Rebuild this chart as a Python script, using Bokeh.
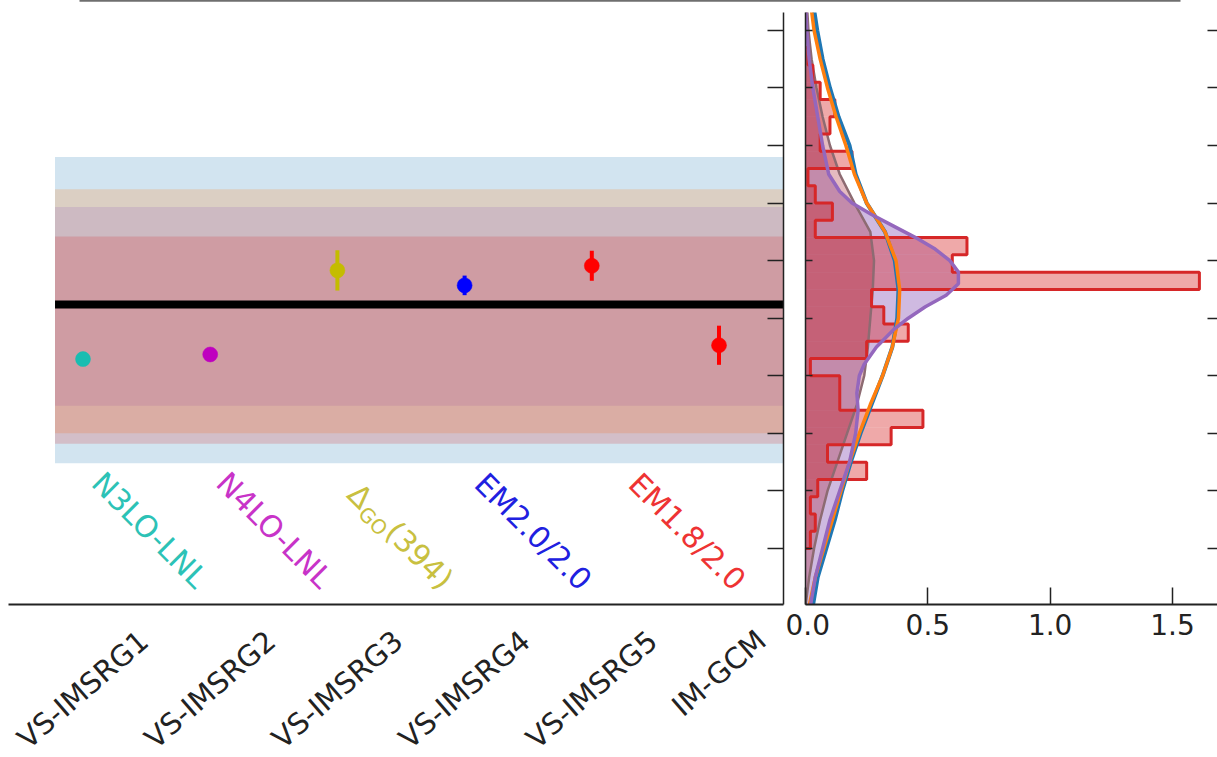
import math
from bokeh.plotting import figure
from bokeh.layouts import column, row
from bokeh.models import (Range1d, FixedTicker, LinearAxis, CustomJSTickFormatter,
                          PrintfTickFormatter)
from bokeh.core.properties import value
from bokeh.embed import file_html
from bokeh.resources import INLINE

FONT = "DejaVu Sans"

# ---------------- data ----------------
methods = ["VS-IMSRG1", "VS-IMSRG2", "VS-IMSRG3", "VS-IMSRG4", "VS-IMSRG5", "IM-GCM"]
method_values = [3.29, 3.37, 4.83, 4.57, 4.91, 3.53]
method_errors = [0.05, 0.05, 0.35, 0.17, 0.26, 0.34]
method_colors = ["#19bdb1", "#bf00bf", "#c4bc00", "#0000ff", "#ff0000", "#ff0000"]

interactions = ["N3LO-LNL", "N4LO-LNL", "ΔGO(394)", "EM2.0/2.0", "EM1.8/2.0"]
interaction_colors = ["#2cc2b6", "#c833c8", "#c8c040", "#2020e0", "#ee3333"]
interaction_x = [0.21, 1.19, 2.22, 3.22, 4.43]
interaction_y = [1.445, 1.445, 1.25, 1.43, 1.43]

reference_value = 4.24

band_low = [1.48, 2.00, 2.48, 1.82]
band_high = [6.80, 6.24, 5.93, 5.42]
band_colors = ["#1f77b4", "#ff7f0e", "#9467bd", "#d62728"]
band_x = [-0.22, 5.51]

y_ticks = [0, 1, 2, 3, 4, 5, 6, 7, 8, 9]

# right panel: histogram (horizontal) and density curves
hist_edges = [0.0, 0.3, 0.6, 0.9, 1.2, 1.5, 1.8, 2.1, 2.4, 2.7, 3.0, 3.3, 3.6, 3.9,
              4.2, 4.5, 4.8, 5.1, 5.4, 5.7, 6.0, 6.3, 6.6, 6.9, 7.2, 7.5, 7.8, 8.1,
              8.4, 8.7]
hist_density = [0.02, 0.04, 0.02, 0.05, 0.25, 0.09, 0.35, 0.48, 0.14, 0.14, 0.02,
                0.25, 0.42, 0.32, 0.27, 1.61, 0.60, 0.66, 0.04, 0.11, 0.04, 0.01,
                0.19, 0.06, 0.10, 0.12, 0.06, 0.03, 0.01]

kde_y = [-1.0, -0.5, 0.0, 0.5, 1.0, 1.5, 2.0, 2.5, 3.0, 3.5, 4.0, 4.5, 5.0, 5.5,
         6.0, 6.5, 7.0, 7.5, 8.0, 8.5, 9.0, 9.5]
kde_blue = [0.03, 0.05, 0.085, 0.12, 0.15, 0.185, 0.225, 0.27, 0.315, 0.355, 0.375,
            0.38, 0.365, 0.325, 0.25, 0.205, 0.18, 0.135, 0.10, 0.07, 0.048, 0.03]
kde_orange = [0.015, 0.04, 0.075, 0.11, 0.145, 0.18, 0.22, 0.265, 0.315, 0.355, 0.38,
              0.385, 0.37, 0.325, 0.25, 0.20, 0.165, 0.125, 0.09, 0.06, 0.035, 0.02]
kde_red = [0.0, 0.015, 0.035, 0.06, 0.09, 0.13, 0.17, 0.21, 0.24, 0.255, 0.265, 0.275,
           0.28, 0.265, 0.20, 0.14, 0.10, 0.07, 0.045, 0.025, 0.012, 0.005]

purple_y = [-1.0, -0.5, 0.0, 0.5, 1.0, 1.5, 2.0, 2.4, 2.7, 3.0, 3.2, 3.5, 3.8, 4.0,
            4.2, 4.4, 4.6, 4.8, 5.0, 5.2, 5.4, 5.6, 5.8, 6.0, 6.2, 6.5, 7.0, 7.5,
            8.0, 8.5, 9.0, 9.5]
kde_purple = [0.02, 0.04, 0.07, 0.10, 0.14, 0.18, 0.205, 0.215, 0.21, 0.22, 0.24,
              0.29, 0.36, 0.42, 0.49, 0.575, 0.625, 0.625, 0.59, 0.53, 0.45, 0.36,
              0.27, 0.19, 0.14, 0.095, 0.07, 0.05, 0.03, 0.015, 0.005, 0.0]

x_ticks_right = [0.0, 0.5, 1.0, 1.5]

# ---------------- styling / layout ----------------
AX = "#222222"
TXT = "#222222"
W, H_PAGE = 1217, 757
TOP = 12            # height of the strip above the panels
FRAME_H = 592       # panel frame height
y_range = Range1d(-0.973, 9.31)
x_range_left = Range1d(-0.5857, 5.507)

# approximate DejaVu Sans advance widths (em) used to centre rotated labels
CHAR_W = {"V": 0.684, "S": 0.635, "-": 0.361, "I": 0.295, "M": 0.863, "R": 0.695,
          "G": 0.775, "C": 0.698}
DIGIT_W = 0.636


def hidden_label_axis(ticker, tick_in, line_color, line_width=1.5):
    ax = LinearAxis(ticker=ticker, formatter=CustomJSTickFormatter(code="return ''"))
    ax.major_tick_in = tick_in
    ax.major_tick_out = 0
    ax.minor_tick_line_color = None
    ax.major_tick_line_color = AX if tick_in > 0 else None
    ax.major_tick_line_width = 1.5
    ax.axis_line_color = line_color
    ax.axis_line_width = line_width
    ax.major_label_standoff = 0
    ax.major_label_text_font_size = "1px"
    return ax


def bare(fig):
    fig.outline_line_color = None
    fig.grid.visible = False
    return fig


# strip holding the lower spine of a (cropped) panel above
strip = bare(figure(width=W, height=TOP, x_range=Range1d(0, 1), y_range=Range1d(0, 1),
                    output_backend="svg", toolbar_location=None,
                    x_axis_location=None, y_axis_location=None,
                    min_border_left=79, min_border_right=37,
                    min_border_top=0, min_border_bottom=0))
strip.add_layout(hidden_label_axis(FixedTicker(ticks=[]), 0, "#6f6f6f", 2.5), "above")

# ---- left panel ----
P1_H = FRAME_H + 4
p1 = bare(figure(width=785, height=P1_H, x_range=x_range_left, y_range=y_range,
                 output_backend="svg", toolbar_location=None,
                 x_axis_location=None, y_axis_location=None,
                 min_border_left=8, min_border_right=2, min_border_top=0, min_border_bottom=4))

for lo, hi, c in zip(band_low, band_high, band_colors):
    p1.quad(left=band_x[0], right=band_x[1], bottom=lo, top=hi,
            fill_color=c, fill_alpha=0.2, line_color=None)

p1.line(x=band_x, y=[reference_value, reference_value], line_color="black", line_width=8)

idx = list(range(len(methods)))
p1.segment(x0=idx, y0=[v - e for v, e in zip(method_values, method_errors)],
           x1=idx, y1=[v + e for v, e in zip(method_values, method_errors)],
           line_color=method_colors, line_width=4)
p1.scatter(x=idx, y=method_values, size=15, fill_color=method_colors,
           line_color=method_colors, line_width=0.5)

ang = -math.radians(45)
for name, c, xx, yy in zip(interactions, interaction_colors, interaction_x, interaction_y):
    common = dict(text_color=c, angle=ang, text_font=value(FONT),
                  text_align="left", text_baseline="top")
    if name.startswith("Δ"):
        head, sub, tail = name[0], name[1:3], name[3:]
        p1.text(x=[xx], y=[yy], text=[head], text_font_size="30px", **common)
        p1.text(x=[xx], y=[yy], text=[sub], text_font_size="20px",
                x_offset=5, y_offset=25, **common)
        p1.text(x=[xx], y=[yy], text=[tail], text_font_size="30px",
                x_offset=38, y_offset=38, **common)
    else:
        p1.text(x=[xx], y=[yy], text=[name], text_font_size="30px", **common)

# bottom spine (no tick marks) and right spine with inward ticks
p1.add_layout(hidden_label_axis(FixedTicker(ticks=idx), 0, AX, 2), "below")
p1.add_layout(hidden_label_axis(FixedTicker(ticks=y_ticks), 16, AX), "right")

# ---- rotated category labels under the left panel (y = pixels below the spine) ----
LAB_H = H_PAGE - TOP - P1_H
p1lab = bare(figure(width=785, height=LAB_H, x_range=x_range_left,
                    y_range=Range1d(LAB_H + 4, 4),
                    output_backend="svg", toolbar_location=None,
                    x_axis_location=None, y_axis_location=None,
                    min_border_left=8, min_border_right=2,
                    min_border_top=0, min_border_bottom=0))
LAB_FS = 29
lab_ang = math.radians(41)
lab_y = []
for name in methods:
    L = LAB_FS * sum(CHAR_W.get(ch, DIGIT_W) for ch in name)
    Hb = L * math.sin(lab_ang) + LAB_FS * math.cos(lab_ang)
    lab_y.append(21 + Hb / 2)
p1lab.text(x=idx, y=lab_y, text=methods, angle=lab_ang, text_font=value(FONT),
           text_font_size=f"{LAB_FS}px", text_color=TXT,
           text_align="center", text_baseline="middle")

# ---- right panel ----
p2 = bare(figure(width=W - 785, height=H_PAGE - TOP, x_range=Range1d(0, 1.684),
                 y_range=y_range, output_backend="svg", toolbar_location=None,
                 x_axis_location=None, y_axis_location=None,
                 min_border_left=20, min_border_right=0, min_border_top=0,
                 min_border_bottom=H_PAGE - TOP - FRAME_H))

p2.harea(x1=0, x2=kde_purple, y=purple_y, fill_color="#9467bd", fill_alpha=0.45)
p2.quad(left=0, right=hist_density, bottom=hist_edges[:-1], top=hist_edges[1:],
        fill_color="#d62728", fill_alpha=0.4, line_color=None)
p2.harea(x1=0, x2=kde_red, y=kde_y, fill_color="#a81e2d", fill_alpha=0.3)
p2.line(x=kde_red, y=kde_y, line_color="#8d6b72", line_width=2.5)

ox, oy = [0.0], [hist_edges[0]]
for c, lo, hi in zip(hist_density, hist_edges[:-1], hist_edges[1:]):
    ox += [c, c]
    oy += [lo, hi]
ox.append(0.0)
oy.append(hist_edges[-1])
p2.line(x=ox, y=oy, line_color="#d62728", line_width=3)

p2.line(x=kde_blue, y=kde_y, line_color="#1f77b4", line_width=4)
p2.line(x=kde_orange, y=kde_y, line_color="#ff7f0e", line_width=3.5)
p2.line(x=kde_purple, y=purple_y, line_color="#9467bd", line_width=3.5)

bx = LinearAxis(ticker=FixedTicker(ticks=x_ticks_right),
                formatter=PrintfTickFormatter(format="%.1f"))
bx.axis_line_color = AX
bx.axis_line_width = 2
bx.major_tick_line_color = AX
bx.major_tick_line_width = 1.5
bx.major_tick_in = 17
bx.major_tick_out = 0
bx.minor_tick_line_color = None
bx.major_label_text_font = FONT
bx.major_label_text_font_size = "28px"
bx.major_label_text_color = TXT
bx.major_label_standoff = 9
p2.add_layout(bx, "below")
p2.add_layout(hidden_label_axis(FixedTicker(ticks=y_ticks), 7, AX), "left")
p2.add_layout(hidden_label_axis(FixedTicker(ticks=y_ticks), 10, None), "right")

layout = column(strip, row(column(p1, p1lab), p2))
open("out.html", "w").write(file_html(layout, INLINE))
